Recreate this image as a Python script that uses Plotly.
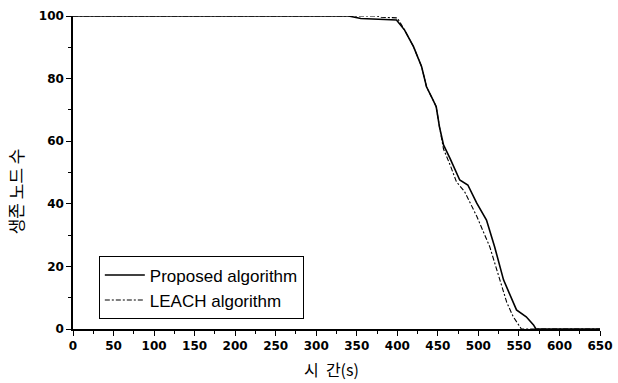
import plotly.graph_objects as go

# Proposed algorithm
prop_t = [0, 340, 355, 399, 409, 420, 430, 436, 444, 448, 452, 457, 465, 477, 487, 498, 510, 520, 531, 547, 559, 568, 571, 650]
prop_n = [100, 100, 99.2, 98.7, 95.5, 90.2, 83.8, 77.4, 73.2, 71, 64.6, 58.8, 54.5, 47.6, 46, 40.2, 34.8, 26.3, 15.7, 6.1, 3.9, 1.3, 0, 0]
# LEACH algorithm
leach_t = [0, 375, 380, 400, 409, 420, 430, 436, 444, 448, 452, 457, 465, 473, 483, 498, 514, 526, 535, 543, 549, 553, 650]
leach_n = [100, 100, 99.6, 99.4, 95.5, 90.2, 83.8, 77.4, 73.2, 71, 64.6, 57.5, 52.5, 47, 43.9, 36, 26.3, 15.7, 8.5, 3.9, 1.8, 0, 0]

x_ticks = list(range(0, 651, 50))
y_ticks = [0, 20, 40, 60, 80, 100]
x_title = "시\u00a0\u00a0간(s)"
y_title = "생존 노드 수"

fig = go.Figure()
fig.add_trace(go.Scatter(x=prop_t, y=prop_n, mode="lines", name="Proposed algorithm",
                         line=dict(color="black", width=1.6)))
fig.add_trace(go.Scatter(x=leach_t, y=leach_n, mode="lines", name="LEACH algorithm",
                         line=dict(color="black", width=1.1, dash="5px,2px,2px,2px")))

fig.update_layout(
    width=618, height=383,
    margin=dict(l=73, r=18, t=16, b=54, autoexpand=False),
    paper_bgcolor="white", plot_bgcolor="white",
    font=dict(family="Arial, Liberation Sans", color="black"),
    showlegend=True,
    legend=dict(x=0.049, y=0.232, xanchor="left", yanchor="top",
                bordercolor="black", borderwidth=1, bgcolor="white",
                font=dict(size=17, family="Arial, Liberation Sans"),
                tracegroupgap=0, itemwidth=40),
    xaxis=dict(range=[0, 650], tickvals=x_ticks, ticks="outside", ticklen=5,
               tickwidth=1.2, tickcolor="black", showline=True, linecolor="black",
               linewidth=1.5, showgrid=False, zeroline=False, automargin=False,
               tickfont=dict(size=12, family="DejaVu Sans", weight="bold"),
               minor=dict(dtick=25, ticks="outside", ticklen=3, tickcolor="black")),
    yaxis=dict(range=[0, 100], tickvals=y_ticks, ticks="outside", ticklen=5,
               tickwidth=1.2, tickcolor="black", showline=True, linecolor="black",
               linewidth=1.5, showgrid=False, zeroline=False, automargin=False,
               tickfont=dict(size=12, family="DejaVu Sans", weight="bold"),
               minor=dict(dtick=10, ticks="outside", ticklen=3, tickcolor="black")),
    annotations=[
        dict(text=x_title, xref="paper", yref="paper", x=0.49, y=-0.128,
             xanchor="center", yanchor="middle", showarrow=False,
             font=dict(size=16, family="Noto Sans CJK KR")),
        dict(text=y_title, xref="paper", yref="paper", x=-0.11, y=0.44,
             xanchor="center", yanchor="middle", showarrow=False, textangle=-90,
             font=dict(size=17, family="Noto Sans CJK KR")),
    ],
)

fig.write_html("out.html")
